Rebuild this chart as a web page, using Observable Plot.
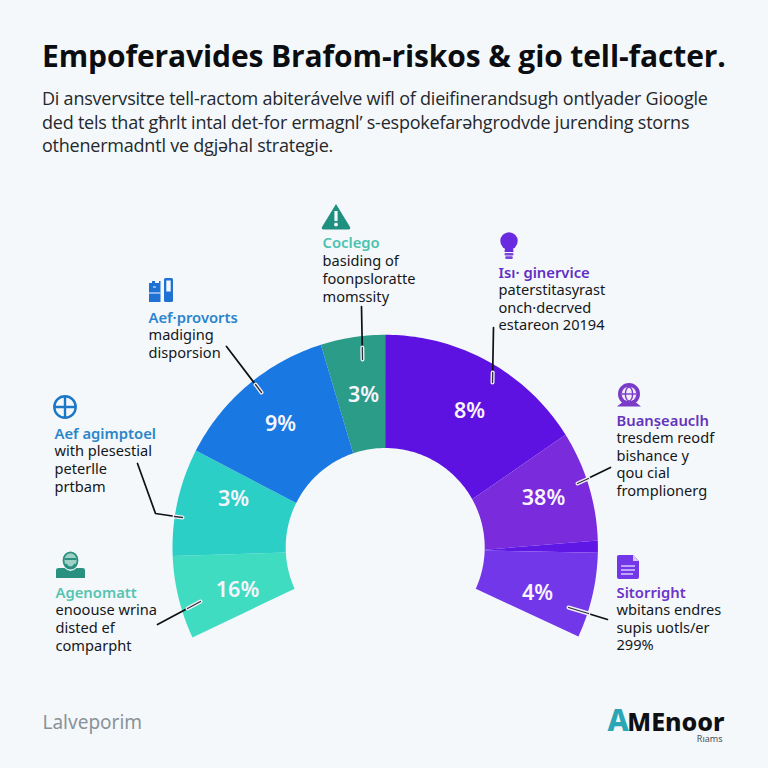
<!DOCTYPE html>
<html>
<head>
<meta charset="utf-8">
<script src="https://cdn.jsdelivr.net/npm/d3@7"></script>
<script src="https://cdn.jsdelivr.net/npm/@observablehq/plot@0.6"></script>
<style>
html,body{margin:0;padding:0;background:#f4f8fb;width:768px;height:768px;overflow:hidden}
#head{position:relative;height:170px;width:768px}
#head div{position:absolute;white-space:nowrap;font-family:"Open Sans",sans-serif}
.t{left:42px;top:36px;font-size:30px;line-height:40px;font-weight:700;color:#0b0d10;letter-spacing:-.11px}
.s{left:42px;font-size:18px;line-height:24px;color:#24282d;letter-spacing:-.22px}
svg{display:block}
</style>
</head>
<body>
<div id="head"></div>
<div id="chart"></div>
<script>
const titleText = "Empoferavides Brafom-riskos & gio tell-facter.";
const subtitleLines = [
  "Di ansvervsitꞇe tell-ractom abiterávelve wifl of dieifinerandsugh ontlyader Gioogle",
  "ded tels that gћrlt intal det-for ermagnl’ s-espokefarəhgrodvde jurending storns",
  "othenermadntl ve dgjəhal strategie."
];
// slices: clockwise angles, degrees from 12 o'clock, at the outer and inner rim
const sliceNames  = ["Coclego","Isi","Buan","Wedge","Sitor","Agen","Aefa","Aefp"];
const outerStart  = [-17.6, 0, 58, 88.1, 91.4, -115, -92.3, -62.9];
const outerEnd    = [0, 58, 88.1, 91.4, 114.7, -92.3, -62.9, -17.6];
const innerStart  = [-18.8, 0, 61, 91.3, 91.7, -114.5, -92.9, -63.4];
const innerEnd    = [0, 61, 91.3, 91.7, 114.5, -92.9, -63.4, -18.8];
const sliceColors = ["#2a9c88","#5e12e2","#7a2bdc","#5f17e6","#7337ea","#40dcc2","#2bcfc6","#1a78e2"];
const percentLabels = ["3%","8%","38%","4%","16%","3%","9%"];
const percentX = [363,469,543,537,237,233,280];
const percentY = [395,411,498,593,590,499,424];

const labelHeads = ["Coclego","Isı· ginervice","Aef·provorts","Aef agimptoel","Agenomatt","Buanṣeauclh","Sitorright"];
const labelBodies = [
  ["basiding of","foonpsloratte","momssity"],
  ["paterstitasyrast","onch·decrved","estareon 20194"],
  ["madiging","disporsion"],
  ["with plesestial","peterlle","prtbam"],
  ["enoouse wrina","disted ef","comparpht"],
  ["tresdem reodf","bishance y","qou cial","fromplionerg"],
  ["wbitans endres","supis uotls/er","299%"]
];
const labelX = [322,498,148,54,55,616,616];
const labelY = [247,277,322,438,597,425,597];
const labelStep = [18,17.5,17.5,17.7,17.7,17.6,17.5];
const headColors = ["#4cc2ae","#5f2fc4","#2b85cc","#2a86c8","#55c4b0","#6434bb","#6b35c8"];

const leaders = [
  [[361,306],[362,359]],
  [[493,327],[492,382]],
  [[226,346],[261,392]],
  [[137,463],[155,513],[182,517]],
  [[157,624],[200,601]],
  [[610,467],[577,483]],
  [[607,619],[568,607]]
];
const leaderTips = [
  [[361.8,347],[362,359]],
  [[492.2,372],[492,382]],
  [[255,384],[261,392]],
  [[174,516],[182,517]],
  [[187,608],[200,601]],
  [[588,478],[577,483]],
  [[588,613],[568,607]]
];

const cx = 384.7, cy = 547, r0 = 99.5, r1 = 212.7;
const ptAt = (a, r) => [cx + r*Math.sin(a*Math.PI/180), cy - r*Math.cos(a*Math.PI/180)];
const sweep = (a,b) => { const n=Math.max(2,Math.ceil(Math.abs(b-a))); return d3.range(n+1).map(k=>a+(b-a)*k/n); };
const slicePts = sliceNames.flatMap((name,i)=>[
  ...sweep(outerStart[i],outerEnd[i]).map(t=>ptAt(t,r1)),
  ...sweep(innerEnd[i],innerStart[i]).map(t=>ptAt(t,r0))
].map(p=>({slice:name,x:p[0],y:p[1]})));
const toPts = arr => arr.flatMap((l,i)=>l.map(p=>({id:i,x:p[0],y:p[1]})));

const textRows = labelHeads.flatMap((h,i)=>[
  {text:h,x:labelX[i],y:labelY[i],head:true,color:headColors[i]},
  ...labelBodies[i].map((t,k)=>({text:t,x:labelX[i],y:labelY[i]+labelStep[i]*(k+1),head:false,color:"#14171a"}))
]);
const percentRows = percentLabels.map((t,i)=>({t,x:percentX[i],y:percentY[i]}));

// header
const head = d3.select("#head");
head.append("div").attr("class","t").text(titleText);
subtitleLines.forEach((l,i)=>head.append("div").attr("class","s").style("top",(86+i*23.5)+"px").text(l));

function icons(index,{x,y}){
  const g=d3.create("svg:g");
  const put=(px,py)=>g.append("g").attr("transform",`translate(${x(px)},${y(py)})`);
  // warning
  let a=put(336,217);
  a.append("path").attr("d","M0,-13 L14,10 Q15,12.5 12,12.5 L-12,12.5 Q-15,12.5 -14,10 Z").attr("fill","#1f8f80");
  a.append("rect").attr("x",-1.6).attr("y",-6).attr("width",3.2).attr("height",10).attr("fill","#f4f8fb");
  a.append("circle").attr("cy",7.5).attr("r",1.9).attr("fill","#f4f8fb");
  // bulb
  a=put(509,241);
  a.append("circle").attr("r",8.7).attr("fill","#6a2be0");
  a.append("path").attr("d","M-4,7 L4,7 L4.5,11 L-4.5,11 Z").attr("fill","#6a2be0");
  a.append("rect").attr("x",-4.5).attr("y",12).attr("width",9).attr("height",2.4).attr("rx",1).attr("fill","#7a45d8");
  a.append("rect").attr("x",-3.8).attr("y",15.3).attr("width",7.6).attr("height",2.6).attr("rx",1.2).attr("fill","#7a45d8");
  // chat globe
  a=put(629,394);
  a.append("path").attr("d","M-12,12.5 L-7,8.5 A11,11 0 1 1 7,8.5 L12,12.5 Z").attr("fill","#7a3bc8");
  a.append("circle").attr("r",7.3).attr("fill","#f0ebfa");
  a.append("ellipse").attr("rx",3.6).attr("ry",7).attr("fill","none").attr("stroke","#7a3bc8").attr("stroke-width",1.4);
  a.append("path").attr("d","M-7,0 L7,0").attr("stroke","#7a3bc8").attr("stroke-width",1.4);
  // doc
  a=put(628,567);
  a.append("path").attr("d","M-11,-10 Q-11,-12 -9,-12 L5,-12 L11,-6 L11,10 Q11,12 9,12 L-9,12 Q-11,12 -11,10 Z").attr("fill","#7337ea");
  a.append("path").attr("d","M5,-12 L11,-6 L5,-6 Z").attr("fill","#d9c8fa");
  a.append("path").attr("d","M-7,-1 L7,-1 M-7,3 L7,3 M-7,7 L5,7").attr("stroke","#d9c8fa").attr("stroke-width",1.5);
  // plus circle
  a=put(65,407);
  a.append("circle").attr("r",10.7).attr("fill","none").attr("stroke","#1c78c6").attr("stroke-width",2.4);
  a.append("path").attr("d","M-10,0 L10,0 M0,-10 L0,10").attr("stroke","#1c78c6").attr("stroke-width",2.4);
  // boxes
  a=put(161,290);
  a.append("path").attr("d","M-12,-7 L-9,-7 L-9,-9 L-6,-9 L-6,-7 L-2,-7 L-2,-9 L-.5,-9 L-.5,12 L-12,12 Z").attr("fill","#1f72d4");
  a.append("rect").attr("x",3).attr("y",-12).attr("width",9).attr("height",24).attr("rx",1.5).attr("fill","#1f72d4");
  a.append("rect").attr("x",5.3).attr("y",-9.5).attr("width",4.4).attr("height",11).attr("fill","#f4f8fb");
  a.append("path").attr("d","M-12,3 L-.5,3 M-8,-3 L-5,-3").attr("stroke","#f4f8fb").attr("stroke-width",1.2);
  // person
  a=put(70.5,565);
  a.append("path").attr("d","M-14.5,13 L-14.5,5 Q-14.5,3 -12,3 L-6,3 Q0,9 6,3 L12,3 Q14.5,3 14.5,5 L14.5,13 Z").attr("fill","#2a9080");
  a.append("ellipse").attr("cy",-4.5).attr("rx",7).attr("ry",8.2).attr("fill","#9fd0c6").attr("stroke","#2a9080").attr("stroke-width",1.8);
  a.append("path").attr("d","M-6,-6 L6,-6 M-5,-1 Q0,6 5,-1").attr("stroke","#2a9080").attr("stroke-width",2).attr("fill","none");
  return g.node();
}

const plot = Plot.plot({
  width:768, height:598, margin:0,
  x:{domain:[0,768],range:[0,768],axis:null},
  y:{domain:[170,768],range:[0,598],axis:null},
  color:{type:"ordinal",domain:sliceNames,range:sliceColors},
  style:{background:"transparent"},
  marks:[
    Plot.line(slicePts,{x:"x",y:"y",z:"slice",fill:"slice",stroke:"none"}),
    Plot.text(percentRows,{x:"x",y:"y",text:"t",fill:"#f7f4fd",fontSize:21.5,fontWeight:600,fontFamily:"Noto Sans",textAnchor:"middle",lineAnchor:"middle"}),
    Plot.line(toPts(leaders),{x:"x",y:"y",z:"id",stroke:"#0e1013",strokeWidth:1.7}),
    Plot.line(toPts(leaderTips),{x:"x",y:"y",z:"id",stroke:"#f1eef8",strokeWidth:4,strokeLinecap:"round"}),
    Plot.line(toPts(leaderTips),{x:"x",y:"y",z:"id",stroke:"#30303a",strokeWidth:1.3,strokeLinecap:"round"}),
    Plot.text(textRows.filter(d=>!d.head),{x:"x",y:"y",text:"text",fill:"color",fontSize:14.6,fontFamily:"Noto Sans",textAnchor:"start",lineAnchor:"bottom"}),
    Plot.text(textRows.filter(d=>d.head),{x:"x",y:"y",text:"text",fill:"color",fontSize:14.8,fontWeight:600,fontFamily:"Noto Sans",textAnchor:"start",lineAnchor:"bottom"}),
    icons,
    Plot.text([{t:"Lalveporim",x:42,y:728}],{x:"x",y:"y",text:"t",fill:"#8a9299",fontSize:19,fontFamily:"Noto Sans",textAnchor:"start",lineAnchor:"bottom"}),
    Plot.text([{t:"A",x:607,y:730}],{x:"x",y:"y",text:"t",fill:"#2aa7b4",fontSize:30,fontWeight:800,fontFamily:"Noto Sans",textAnchor:"start",lineAnchor:"bottom"}),
    Plot.text([{t:"MEnoor",x:724,y:730}],{x:"x",y:"y",text:"t",fill:"#0e1013",fontSize:25,fontWeight:800,fontFamily:"Noto Sans",textAnchor:"end",lineAnchor:"bottom"}),
    Plot.text([{t:"Rıams",x:722,y:741}],{x:"x",y:"y",text:"t",fill:"#4a4f55",fontSize:9,fontFamily:"Noto Sans",textAnchor:"end",lineAnchor:"bottom"})
  ]
});
document.getElementById("chart").appendChild(plot);
</script>
</body>
</html>
